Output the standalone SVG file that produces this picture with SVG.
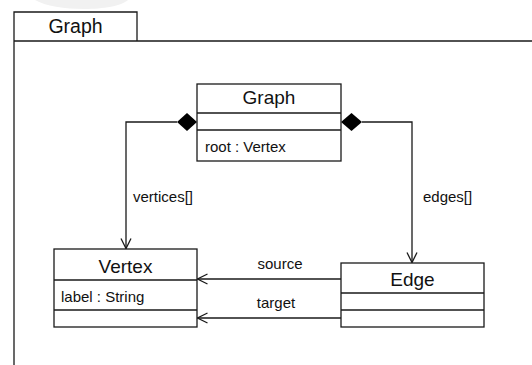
<svg xmlns="http://www.w3.org/2000/svg" width="532" height="365" viewBox="0 0 532 365">
<defs>
<style>
.box{fill:#fff;stroke:#1a1a1a;stroke-width:1.3}
.ln{fill:none;stroke:#1a1a1a;stroke-width:1.3}
.t{font-family:"Liberation Sans",Arial,sans-serif;fill:#111}
.title{font-size:19px;text-anchor:middle}
.attr{font-size:15px}
.lbl{font-size:15px}
</style>
<marker id="open" viewBox="0 0 12 12" refX="11" refY="6" markerWidth="12" markerHeight="12" markerUnits="userSpaceOnUse" orient="auto">
<path d="M1,1 L11,6 L1,11" fill="none" stroke="#1a1a1a" stroke-width="1.3"/>
</marker>
</defs>
<rect width="532" height="365" fill="#fff"/>
<path d="M35,0 C55,12 115,12 128,0 Z" fill="#f1f1f1"/>
<g id="frame">
<path class="ln" d="M14,365 V12 H137 V41 M14,41 H532"/>
<text class="t" x="75.5" y="33" font-size="19.5" text-anchor="middle">Graph</text>
</g>
<g id="connectors">
<path class="ln" d="M177,122 H126 V248.5" marker-end="url(#open)"/>
<path d="M197,122 L187,113 L177,122 L187,131 Z" fill="#000"/>
<path class="ln" d="M362,122 H412 V262.5" marker-end="url(#open)"/>
<path d="M341,122 L351.5,113 L362,122 L351.5,131 Z" fill="#000"/>
<path class="ln" d="M341,279 H197.5" marker-end="url(#open)"/>
<path class="ln" d="M341,318 H197.5" marker-end="url(#open)"/>
<text class="t lbl" x="133" y="202">vertices[]</text>
<text class="t lbl" x="423" y="202">edges[]</text>
<text class="t lbl" x="280" y="269" text-anchor="middle">source</text>
<text class="t lbl" x="276" y="308" text-anchor="middle">target</text>
</g>
<g id="graph">
<rect class="box" x="197" y="84" width="144" height="77"/>
<path class="ln" d="M197,113 H341 M197,130 H341"/>
<text class="t title" x="269" y="104">Graph</text>
<text class="t attr" x="205" y="152">root : Vertex</text>
</g>
<g id="vertex">
<rect class="box" x="54" y="249" width="143" height="78"/>
<path class="ln" d="M54,280 H197 M54,310 H197"/>
<text class="t title" x="125.5" y="273">Vertex</text>
<text class="t attr" x="61" y="302">label : String</text>
</g>
<g id="edge">
<rect class="box" x="341" y="263" width="143" height="64"/>
<path class="ln" d="M341,293 H484 M341,310 H484"/>
<text class="t title" x="412.5" y="286">Edge</text>
</g>
</svg>
